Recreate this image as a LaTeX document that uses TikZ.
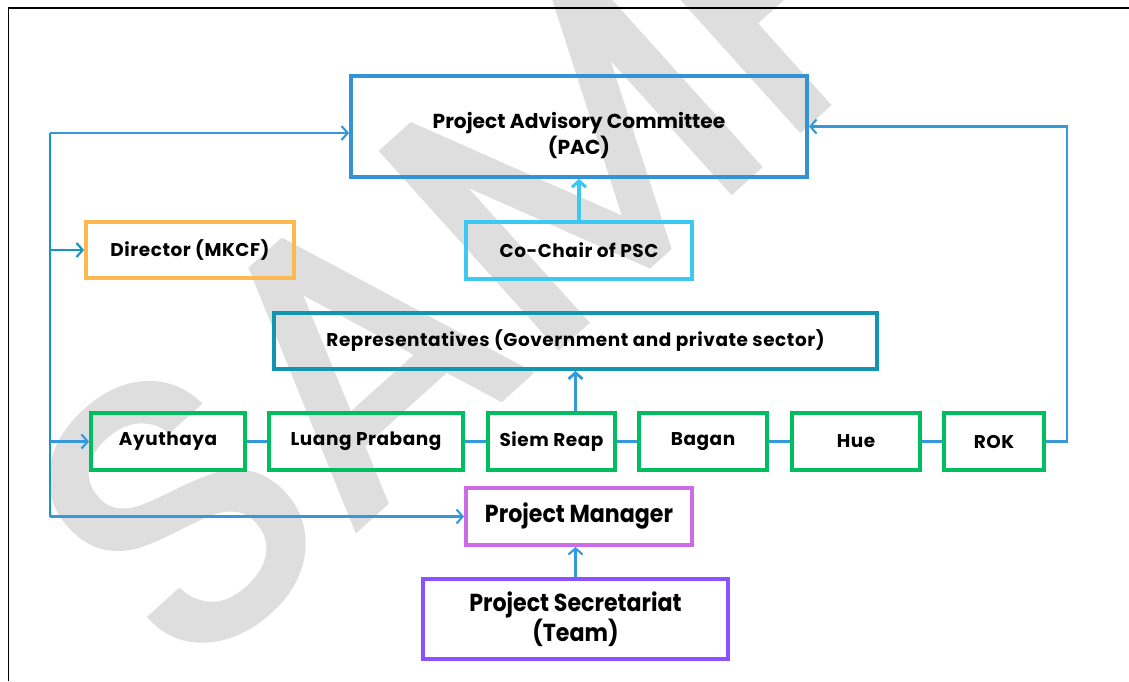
\documentclass[tikz,border=0pt]{standalone}
\usepackage{fontspec}
\setmainfont{Poppins}
\newfontfamily\widefont{Poppins}[LetterSpace=3]
\newfontfamily\narrowfont{Poppins}[FakeStretch=0.9]
\newfontfamily\markfont{Poppins}[FakeBold=2]
\definecolor{pacblue}{RGB}{52,146,214}
\definecolor{chaircyan}{RGB}{60,200,240}
\definecolor{dirorange}{RGB}{253,185,80}
\definecolor{repteal}{RGB}{16,150,178}
\definecolor{sitegreen}{RGB}{0,190,95}
\definecolor{pmviolet}{RGB}{203,108,230}
\definecolor{secpurple}{RGB}{140,82,255}
\definecolor{linkblue}{RGB}{52,152,219}
\definecolor{busteal}{RGB}{20,150,190}
\definecolor{markgray}{RGB}{222,222,222}
\usetikzlibrary{positioning,arrows.meta}
\tikzset{
  box/.style={draw, line width=2.2pt, align=center, inner sep=0pt,
    font=\widefont\bfseries\fontsize{10.5}{13}\selectfont},
  site/.style={box, draw=sitegreen, minimum width=#1, minimum height=1.14cm},
  link/.style={draw=linkblue, line width=1.2pt},
  watermark/.style={text=markgray, rotate=42, inner sep=0pt,
    font=\markfont\fontsize{215}{215}\selectfont},
}

\begin{document}
\begin{tikzpicture}[>={Straight Barb[length=3.5pt,width=8pt]}]
  \useasboundingbox (0,0) rectangle (22.58,-13.62);

  % watermark behind everything
  \node [watermark, anchor=base west] (mark) at (3.66,-13.68) {SAMPLE};

  % frame
  \draw [line width=0.9pt] (0.17,-13.62) -- (0.17,-0.16) -- (22.58,-0.16);

  \node [box, draw=pacblue, minimum width=9.12cm, minimum height=2.02cm,
    font=\bfseries\fontsize{11.5}{13}\selectfont] (pac) at (11.58,-2.53)
    {\raisebox{-0.31cm}[0pt][0pt]{\begin{tabular}{@{}c@{}}Project Advisory Committee\\(PAC)\end{tabular}}};
  \node [box, draw=chaircyan, minimum width=4.52cm, minimum height=1.14cm] (chair) at (11.58,-5.01) {Co-Chair of PSC};
  \node [box, draw=dirorange, minimum width=4.16cm, minimum height=1.12cm] (dir) at (3.80,-5.00) {Director (MKCF)};
  \node [box, draw=repteal, minimum width=12.06cm, minimum height=1.12cm] (rep) at (11.51,-6.82) {Representatives (Government and private sector)};

  % sites
  \node [site=3.08cm] (ayu) at (3.36,-8.83) {Ayuthaya};
  \node [site=3.88cm] (luang) at (7.32,-8.83) {Luang Prabang};
  \node [site=2.54cm] (siem) at (11.03,-8.83) {Siem Reap};
  \node [site=2.56cm] (bagan) at (14.06,-8.83) {Bagan};
  \node [site=2.56cm] (hue) at (17.12,-8.83) {Hue};
  \node [site=2.00cm] (rok) at (19.88,-8.83) {ROK};

  \node [box, draw=pmviolet, minimum width=4.52cm, minimum height=1.14cm,
    font=\narrowfont\bfseries\fontsize{14}{17}\selectfont] (pm) at (11.58,-10.33) {Project Manager};
  \node [box, draw=secpurple, minimum width=6.10cm, minimum height=1.60cm,
    font=\narrowfont\bfseries\fontsize{14}{17}\selectfont] (sec) at (11.51,-12.38) {Project Secretariat\\(Team)};

  % left bus
  \coordinate (bustop) at (1.00,-2.66);
  \draw [link, draw=busteal] (bustop) -- (bustop |- pm.west);
  \draw [link, ->] (bustop) -- (bustop -| pac.west);
  \draw [link, draw=busteal, ->] (bustop |- dir.west) -- (dir.west);
  \draw [link, ->] (bustop |- ayu.west) -- (ayu.west);
  \draw [link, ->] (bustop |- pm.west) -- (pm.west);

  % site chain
  \draw [link] (ayu) -- (luang);
  \draw [link] (luang) -- (siem);
  \draw [link] (siem) -- (bagan);
  \draw [link] (bagan) -- (hue);
  \draw [link] (hue) -- (rok);

  % upward links
  \draw [link, draw=chaircyan, line width=1.8pt, ->] (chair) -- (pac);
  \draw [link, line width=1.6pt, ->] (rep.south |- siem.north) -- (rep.south);
  \draw [link, ->] (sec.north) -- (sec.north |- pm.south);
  \draw [link, ->] (rok.east) -- ++(0.42,0) |- (pac.east);

\end{tikzpicture}
\end{document}
